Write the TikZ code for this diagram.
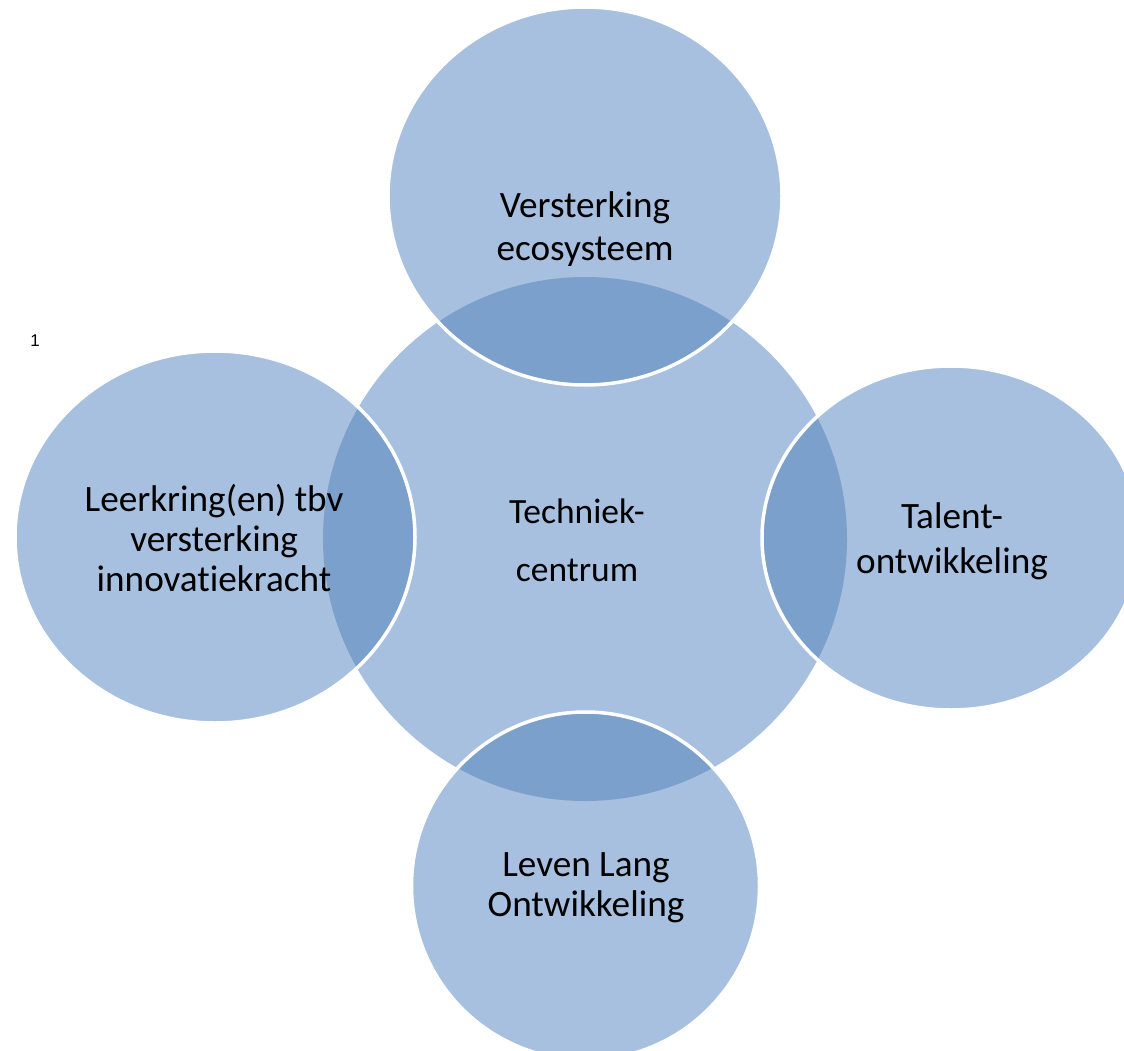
\documentclass[tikz,border=0pt]{standalone}
\usepackage{fontspec}
\setmainfont{Carlito}[Ligatures={NoCommon,NoContextual}]
\newfontfamily\arialfont{Liberation Sans}
\definecolor{lightblue}{RGB}{167,192,223}
\definecolor{darkblue}{RGB}{123,160,204}
\tikzset{
  lbl/.style={align=center, inner sep=0pt, text=black},
  outline/.style={draw=white, line width=3.5pt},
}
\newcommand{\outerellipse}[4]{%
  \fill[lightblue] (#1,#2) ellipse[x radius=#3, y radius=#4];
  \begin{scope}
    \clip (585,539) circle[radius=262];
    \fill[darkblue] (#1,#2) ellipse[x radius=#3, y radius=#4];
  \end{scope}
  \draw[outline] (#1,#2) ellipse[x radius=#3, y radius=#4];
}
\begin{document}
\begin{tikzpicture}[x=1pt,y=-1pt]
\useasboundingbox (0,0) rectangle (1124,1051);
% central circle
\fill[lightblue] (585,539) circle[radius=262];
% outer ellipses
\outerellipse{585}{196}{197}{189}
\outerellipse{215}{537}{200}{186}
\outerellipse{951}{538}{189}{172}
\outerellipse{585.5}{886}{174}{174}
% labels
\node[lbl, font=\fontsize{37.2}{43}\selectfont] (ltop) at (585,229) {Versterking\\ecosysteem};
\node[lbl, font=\fontsize{37.2}{40}\selectfont] (lleft) at (214,538) {Leerkring(en) tbv\\versterking\\innovatiekracht};
\node[lbl, font=\fontsize{35.5}{58}\selectfont] (lcenter) at (577,540) {Techniek-\\centrum};
\node[lbl, font=\fontsize{37.2}{45}\selectfont] (lright) at (952,541) {Talent-\\ontwikkeling};
\node[lbl, font=\fontsize{37.2}{40}\selectfont] (lbottom) at (586,888) {Leven Lang\\Ontwikkeling};
\node[lbl, font=\arialfont\fontsize{17}{20}\selectfont] (num) at (35,341) {1};
\end{tikzpicture}
\end{document}
